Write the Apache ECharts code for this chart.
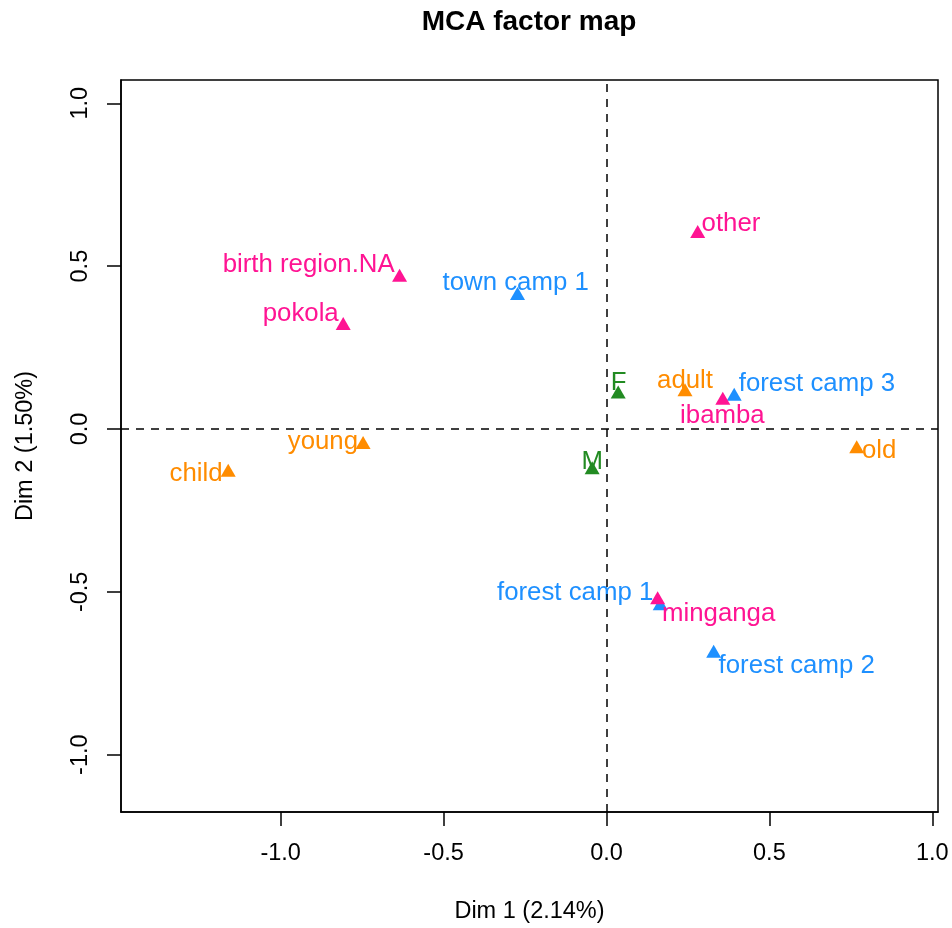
<!DOCTYPE html>
<html>
<head>
<meta charset="utf-8">
<title>MCA factor map</title>
<script src="https://cdn.jsdelivr.net/npm/echarts@6/dist/echarts.min.js"></script>
<style>
  html, body { margin: 0; padding: 0; background: #fff; }
  #chart { width: 952px; height: 928px; }
</style>
</head>
<body>
<div id="chart"></div>
<script>
// Category coordinates on the first two MCA dimensions, one group per variable
const sexCats = ['F', 'M'];
const sexDim1 = [0.036, -0.044];
const sexDim2 = [0.107, -0.126];

const ageCats = ['child', 'young', 'adult', 'old'];
const ageDim1 = [-1.161, -0.747, 0.241, 0.768];
const ageDim2 = [-0.133, -0.048, 0.114, -0.061];

const campCats = ['forest camp 1', 'forest camp 2', 'forest camp 3', 'town camp 1'];
const campDim1 = [0.165, 0.329, 0.392, -0.273];
const campDim2 = [-0.543, -0.689, 0.100, 0.409];

const regionCats = ['birth region.NA', 'ibamba', 'minganga', 'other', 'pokola'];
const regionDim1 = [-0.635, 0.357, 0.157, 0.280, -0.808];
const regionDim2 = [0.465, 0.0875, -0.525, 0.600, 0.317];

const tickValues = [-1.0, -0.5, 0.0, 0.5, 1.0];

// Label placement (pixel offset of each label centre from its marker)
const labelOffset = {
  'F': [0.4, -14.6],
  'M': [0, -11.6],
  'child': [-32.1, -1.1],
  'young': [-40.2, -5.3],
  'adult': [0, -13.6],
  'old': [22.5, -0.6],
  'forest camp 1': [-85.1, -15.6],
  'forest camp 2': [83, 9.3],
  'forest camp 3': [82.7, -15.4],
  'town camp 1': [-1.9, -15.4],
  'birth region.NA': [-90.9, -15.6],
  'ibamba': [-0.4, 12.3],
  'minganga': [61, 11.1],
  'other': [33.3, -12.4],
  'pokola': [-42.5, -14.7]
};
const LABEL_DROP = 3;   // baseline correction for the label font

const FONT = '"Liberation Sans", Arial, Helvetica, sans-serif';
const LABEL_SIZE = 25.8;
const AXIS_SIZE = 23.5;

function groupSeries(name, cats, d1, d2, color) {
  return {
    type: 'custom',
    name: name,
    coordinateSystem: 'cartesian2d',
    data: cats.map((c, i) => ({ name: c, value: [d1[i], d2[i]] })),
    renderItem: function (params, api) {
      const p = api.coord([api.value(0), api.value(1)]);
      const r = 8.66;            // filled triangle centred on its centroid
      const hx = r * Math.sqrt(3) / 2;
      const label = cats[params.dataIndex];
      const off = labelOffset[label] || [0, -14];
      return {
        type: 'group',
        children: [
          {
            type: 'polygon',
            shape: { points: [[p[0], p[1] - r], [p[0] + hx, p[1] + r / 2], [p[0] - hx, p[1] + r / 2]] },
            style: { fill: color }
          },
          {
            type: 'text',
            x: p[0] + off[0],
            y: p[1] + off[1] + LABEL_DROP,
            style: {
              text: label,
              fill: color,
              font: LABEL_SIZE + 'px ' + FONT,
              align: 'center',
              verticalAlign: 'middle'
            }
          }
        ]
      };
    }
  };
}

const chart = echarts.init(document.getElementById('chart'), null, { renderer: 'canvas' });

const axisCommon = {
  type: 'value',
  nameLocation: 'middle',
  nameTextStyle: { fontFamily: FONT, fontSize: AXIS_SIZE, color: '#000' },
  splitLine: { show: false },
  axisLine: { show: true, onZero: false, lineStyle: { color: '#000', width: 1.5 } },
  axisTick: {
    show: true, inside: false, length: 14,
    lineStyle: { color: '#000', width: 1.5 },
    customValues: tickValues
  },
  axisLabel: {
    show: true,
    fontFamily: FONT, fontSize: AXIS_SIZE, color: '#000',
    customValues: tickValues,
    formatter: v => v.toFixed(1)
  }
};

chart.setOption({
  animation: false,
  backgroundColor: '#fff',
  title: {
    text: 'MCA factor map',
    left: 529,
    top: 8,
    padding: 0,
    textAlign: 'center',
    textStyle: { fontFamily: FONT, fontSize: 28, fontWeight: 'bold', color: '#000' }
  },
  grid: {
    left: 121, right: 14, top: 80, bottom: 116,
    show: true, borderColor: '#000', borderWidth: 1.5,
    containLabel: false, outerBoundsMode: 'none'
  },
  xAxis: Object.assign({}, axisCommon, {
    name: 'Dim 1 (2.14%)',
    nameGap: 88,
    min: -1.490, max: 1.0175,
    axisLabel: Object.assign({}, axisCommon.axisLabel, { margin: 30 })
  }),
  yAxis: Object.assign({}, axisCommon, {
    name: 'Dim 2 (1.50%)',
    nameGap: 83,
    min: -1.176, max: 1.0715,
    axisLabel: Object.assign({}, axisCommon.axisLabel, { margin: 28, rotate: 90 })
  }),
  series: [
    {
      type: 'scatter',
      data: [],
      silent: true,
      markLine: {
        silent: true,
        symbol: ['none', 'none'],
        label: { show: false },
        lineStyle: { color: '#000', width: 1.5, type: [8, 7] },
        data: [{ xAxis: 0 }, { yAxis: 0 }]
      }
    },
    groupSeries('Sex', sexCats, sexDim1, sexDim2, '#228B22'),
    groupSeries('Age', ageCats, ageDim1, ageDim2, '#FF8C00'),
    groupSeries('Camp', campCats, campDim1, campDim2, '#1E90FF'),
    groupSeries('Birth region', regionCats, regionDim1, regionDim2, '#FF1493')
  ]
});
</script>
</body>
</html>
